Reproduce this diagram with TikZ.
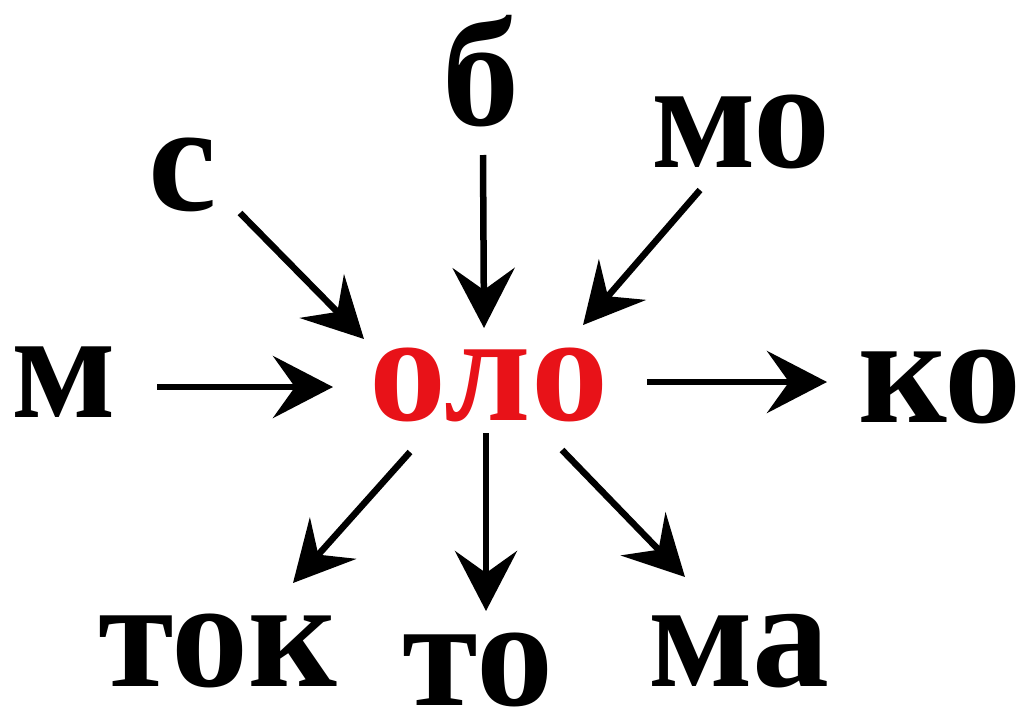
\documentclass[tikz,border=0pt]{standalone}
\usepackage{fontspec}
\setmainfont{Liberation Serif}
\usetikzlibrary{arrows.meta}
\usepackage{xcolor}
\definecolor{rootRed}{RGB}{232,18,24}
\definecolor{wordInk}{RGB}{0,0,0}

\tikzset{
  word/.style={anchor=base, inner sep=0pt, text=wordInk,
               font=\fontsize{154}{154}\selectfont\bfseries},
  root/.style={word, text=rootRed},
  link/.style={draw=wordInk, line width=6.5pt,
               -{Stealth[length=60pt, width=62pt, inset=22pt]}}
}

\begin{document}
\begin{tikzpicture}[x=1pt, y=-1pt]
    \useasboundingbox (0,0) rectangle (1022,715);

    % center word
    \node[root] (olo) at (489,420) {оло};

    % prefixes
    \node[word] (s)  at (183,210) {с};
    \node[word] (b)  at (481,125) {б};
    \node[word] (mo) at (741,167) {мо};
    \node[word] (m)  at (64,417)  {м};

    % suffixes
    \node[word] (ko)  at (940,422) {ко};
    \node[word] (tok) at (218,686) {ток};
    \node[word] (to)  at (478,705) {то};
    \node[word] (ma)  at (739,686) {ма};

    % arrows in
    \draw[link] ([shift={(57,3)}]s.base)    -- ([shift={(-125,-81)}]olo.base);
    \draw[link] ([shift={(2,30)}]b.base)    -- ([shift={(-5,-92)}]olo.base);
    \draw[link] ([shift={(-41,23)}]mo.base) -- ([shift={(94,-95)}]olo.base);
    \draw[link] ([shift={(93,-30)}]m.base)  -- ([shift={(-156,-33)}]olo.base);

    % arrows out
    \draw[link] ([shift={(158,-38)}]olo.base) -- ([shift={(-113,-40)}]ko.base);
    \draw[link] ([shift={(-79,32)}]olo.base)  -- ([shift={(75,-103)}]tok.base);
    \draw[link] ([shift={(-3,13)}]olo.base)   -- ([shift={(8,-94)}]to.base);
    \draw[link] ([shift={(73,30)}]olo.base)   -- ([shift={(-54,-109)}]ma.base);
\end{tikzpicture}
\end{document}
